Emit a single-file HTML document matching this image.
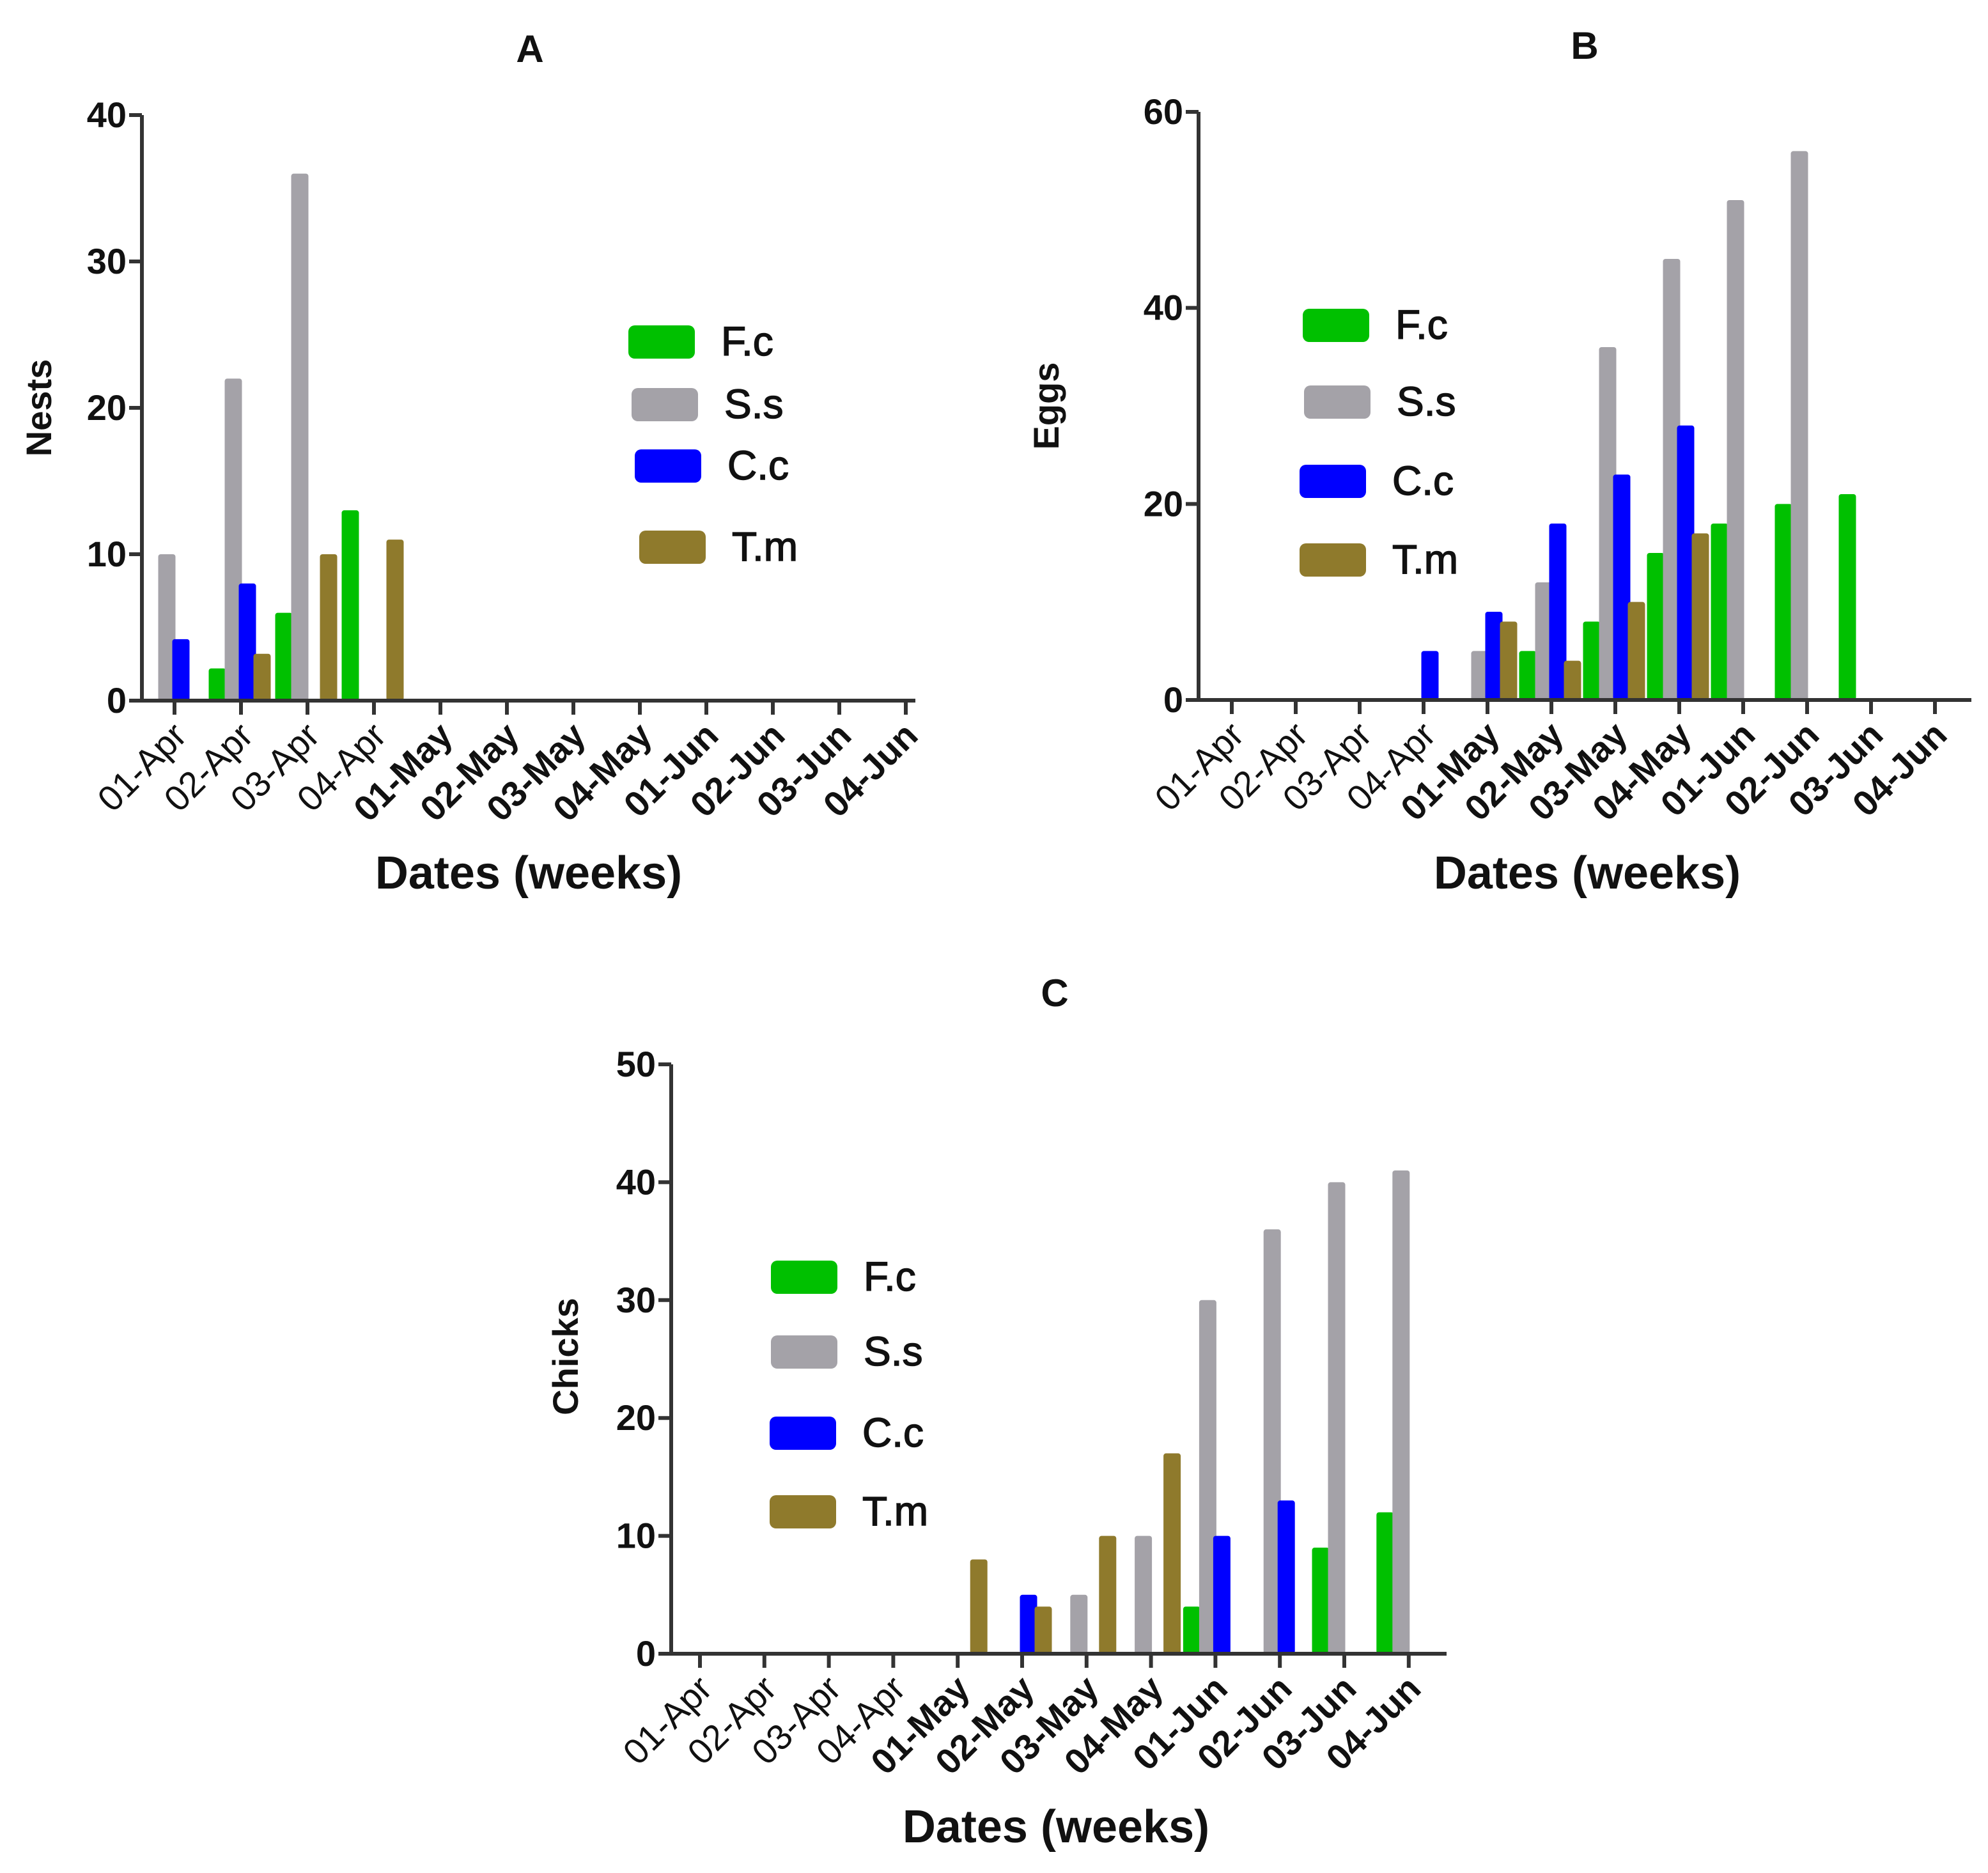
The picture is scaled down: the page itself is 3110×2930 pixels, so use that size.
<!DOCTYPE html>
<html><head><meta charset="utf-8"><style>
html,body{margin:0;padding:0;background:#fff;}
svg{display:block;font-family:"Liberation Sans",Arial,sans-serif;}
</style></head><body>
<svg id="fig" width="3110" height="2930" viewBox="0 0 3110 2930" xmlns="http://www.w3.org/2000/svg">
<rect x="0" y="0" width="3110" height="2930" fill="#fff"/>
</svg>
<script>
const categories = ["01-Apr","02-Apr","03-Apr","04-Apr","01-May","02-May","03-May","04-May","01-Jun","02-Jun","03-Jun","04-Jun"];
const seriesNames = ["F.c","S.s","C.c","T.m"];
// Panel A: Nests
const nestsFc = [0,2.2,6,13,0,0,0,0,0,0,0,0];
const nestsSs = [10,22,36,0,0,0,0,0,0,0,0,0];
const nestsCc = [4.2,8,0,0,0,0,0,0,0,0,0,0];
const nestsTm = [0,3.2,10,11,0,0,0,0,0,0,0,0];
const nestsTicks = [0,10,20,30,40];
// Panel B: Eggs
const eggsFc = [0,0,0,0,0,5,8,15,18,20,21,0];
const eggsSs = [0,0,0,0,5,12,36,45,51,56,0,0];
const eggsCc = [0,0,0,5,9,18,23,28,0,0,0,0];
const eggsTm = [0,0,0,0,8,4,10,17,0,0,0,0];
const eggsTicks = [0,20,40,60];
// Panel C: Chicks
const chicksFc = [0,0,0,0,0,0,0,0,4,0,9,12];
const chicksSs = [0,0,0,0,0,0,5,10,30,36,40,41];
const chicksCc = [0,0,0,0,0,5,0,0,10,13,0,0];
const chicksTm = [0,0,0,0,8,4,10,17,0,0,0,0];
const chicksTicks = [0,10,20,30,40,50];

const colors = ["#00c000","#a4a2a8","#0000ff","#8f7a2c"];
const NS = "http://www.w3.org/2000/svg";
const svg = document.getElementById('fig');
function mk(tag, attrs, parent){
  const e = document.createElementNS(NS, tag);
  for (const k in attrs) e.setAttribute(k, attrs[k]);
  (parent||svg).appendChild(e);
  return e;
}

const panels = [
  {key:'a', letter:'A', ytitle:'Nests', data:[nestsFc,nestsSs,nestsCc,nestsTm], ticks:nestsTicks, ymax:40,
   ax:222, x1:1432, y0:1096, ytop:180, t0:273, step:104, tx:829, ty:97, ytx:80, yty:638, xtx:827, xty:1390,
   leg:{x:[983,988,993,1000], y:[509,607,703,830]}},
  {key:'b', letter:'B', ytitle:'Eggs', data:[eggsFc,eggsSs,eggsCc,eggsTm], ticks:eggsTicks, ymax:60,
   ax:1875, x1:3084, y0:1095, ytop:175, t0:1927, step:100, tx:2479, ty:92, ytx:1656, yty:635, xtx:2483, xty:1390,
   leg:{x:[2038,2040,2033,2033], y:[483,603,727,850]}},
  {key:'c', letter:'C', ytitle:'Chicks', data:[chicksFc,chicksSs,chicksCc,chicksTm], ticks:chicksTicks, ymax:50,
   ax:1050, x1:2263, y0:2587, ytop:1665, t0:1095, step:100.8, tx:1650, ty:1574, ytx:904, yty:2122, xtx:1652, xty:2882,
   leg:{x:[1206,1206,1204,1204], y:[1972,2089,2216,2339]}}
];
const offsets = [-37,-12,10,33];
const barW = 27;

panels.forEach(p => {
  const g = mk('g', {});
  
  
  const yScale = v => p.y0 - (v / p.ymax) * (p.y0 - p.ytop);
  const xScale = i => p.t0 + i * p.step;

  p.data.forEach((vals, s) => {
    vals.forEach((v, i) => {
      if (v <= 0) return;
      const x = xScale(i) + offsets[s] - barW/2;
      const y = yScale(v);
      const r = mk('rect', {x:x, y:y, width:barW, height:p.y0 - y, fill:colors[s], rx:4}, g);
      
      
    });
  });

  const ya = mk('line', {x1:p.ax, y1:p.ytop, x2:p.ax, y2:p.y0+3, stroke:'#333', 'stroke-width':6}, g);
  
  
  const xa = mk('line', {x1:p.ax-20, y1:p.y0, x2:p.x1, y2:p.y0, stroke:'#333', 'stroke-width':6}, g);
  
  

  p.ticks.forEach(t => {
    const y = yScale(t);
    mk('line', {x1:p.ax-20, y1:y, x2:p.ax, y2:y, stroke:'#333', 'stroke-width':6}, g);
    const tl = mk('text', {x:p.ax-24, y:y+19, 'text-anchor':'end', 'font-size':56, 'font-weight':'bold', fill:'#111'}, g);
    tl.textContent = t;
    
    
  });

  categories.forEach((c, i) => {
    const x = xScale(i);
    mk('line', {x1:x, y1:p.y0, x2:x, y2:p.y0+22, stroke:'#333', 'stroke-width':6}, g);
    const lx = x + 22, ly = p.y0 + 58;
    const tl = mk('text', {x:lx, y:ly, 'text-anchor':'end', 'font-size':56, 'font-weight': i < 4 ? 'normal' : 'bold', fill:'#111',
      transform:'rotate(-45 ' + lx + ' ' + ly + ')'}, g);
    tl.textContent = c;
    
    
  });

  const tt = mk('text', {x:p.tx, y:p.ty, 'text-anchor':'middle', 'font-size':60, 'font-weight':'bold', fill:'#111'}, g);
  tt.textContent = p.letter;
  
  
  const yt = mk('text', {x:p.ytx, y:p.yty, 'text-anchor':'middle', 'font-size':56, 'font-weight':'bold', fill:'#111',
    transform:'rotate(-90 ' + p.ytx + ' ' + p.yty + ')'}, g);
  yt.textContent = p.ytitle;
  
  
  const xt = mk('text', {x:p.xtx, y:p.xty, 'text-anchor':'middle', 'font-size':72, 'font-weight':'bold', fill:'#111'}, g);
  xt.textContent = 'Dates (weeks)';
  
  

  seriesNames.forEach((n, s) => {
    const lg = mk('g', {}, g);
    
    
    const lx = p.leg.x[s], ly = p.leg.y[s];
    mk('rect', {x:lx, y:ly, width:104, height:52, rx:10, fill:colors[s]}, lg);
    const lt = mk('text', {x:lx+145, y:ly+47, 'font-size':64, fill:'#111', 'stroke':'#111', 'stroke-width':1.5}, lg);
    lt.textContent = n;
  });
});
</script>
</body></html>
